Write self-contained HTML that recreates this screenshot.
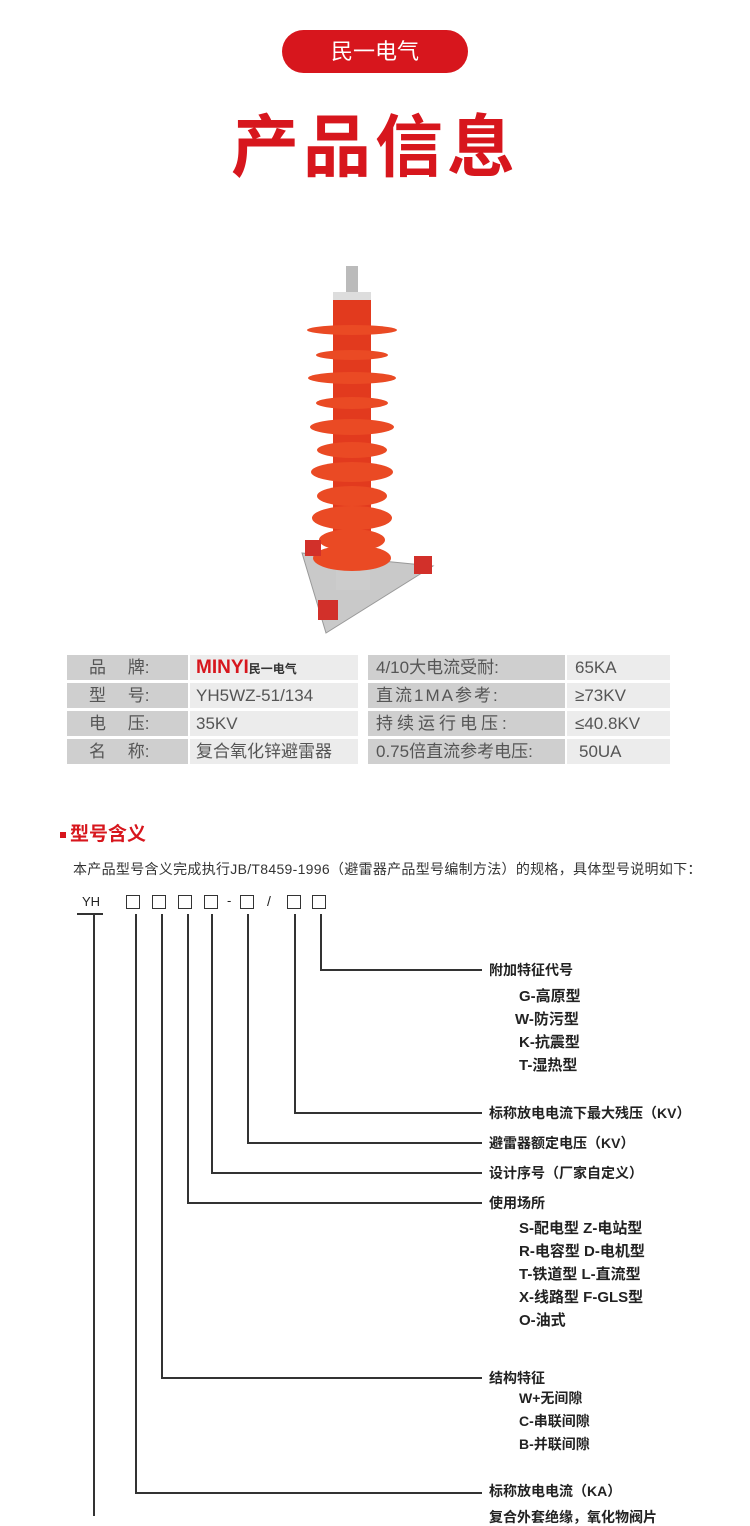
<!DOCTYPE html>
<html><head><meta charset="utf-8"><style>
*{margin:0;padding:0;box-sizing:border-box}
body{width:750px;height:1516px;background:#fff;position:relative;overflow:hidden;font-family:"Liberation Sans","Noto Sans CJK SC",sans-serif;color:#222}
.a{position:absolute;white-space:nowrap}
.pill{left:282px;top:30px;width:186px;height:43px;background:#d7161d;border-radius:22px;color:#fff;font-size:22px;text-align:center;line-height:43px}
.title{left:0;width:750px;top:106px;text-align:center;color:#d7161d;font-size:68px;font-weight:bold;letter-spacing:4px;line-height:84px}
.c{position:absolute;height:25px;font-size:17px;line-height:25px;color:#555;white-space:nowrap}
.g{background:#cfcfcf}.l{background:#ececec}
.lab{font-size:14px;font-weight:bold;color:#222;position:absolute;white-space:nowrap;line-height:18px}
.v{position:absolute;width:1.5px;background:#333}
.h{position:absolute;height:1.5px;background:#333}
.box{position:absolute;top:895px;width:14px;height:14px;border:1.3px solid #333}
.ul{position:absolute;top:913px;height:1.5px;background:#333}
</style></head><body>
<div class="a pill">民一电气</div>
<div class="a title">产品信息</div>
<svg class="a" style="left:290px;top:260px" width="160" height="380" viewBox="290 260 160 380">
<polygon points="302,553 433,566 326,633" fill="#c9c9c9" stroke="#999"/>
<rect x="336" y="550" width="34" height="40" fill="#ccc"/>
<rect x="346" y="266" width="12" height="28" fill="#bbb"/>
<rect x="333" y="292" width="38" height="10" fill="#ddd"/>
<rect x="333" y="300" width="38" height="260" fill="#e23a1e"/>
<g fill="#ea4a24">
<ellipse cx="352" cy="330" rx="45" ry="5"/><ellipse cx="352" cy="355" rx="36" ry="5"/>
<ellipse cx="352" cy="378" rx="44" ry="6"/><ellipse cx="352" cy="403" rx="36" ry="6"/>
<ellipse cx="352" cy="427" rx="42" ry="8"/><ellipse cx="352" cy="450" rx="35" ry="8"/>
<ellipse cx="352" cy="472" rx="41" ry="10"/><ellipse cx="352" cy="496" rx="35" ry="10"/>
<ellipse cx="352" cy="518" rx="40" ry="12"/><ellipse cx="352" cy="540" rx="33" ry="11"/>
<ellipse cx="352" cy="558" rx="39" ry="13"/></g>
<g fill="#d2302a"><rect x="305" y="540" width="16" height="16"/><rect x="414" y="556" width="18" height="18"/><rect x="318" y="600" width="20" height="20"/></g>
</svg>
<div class="c g" style="left:67px;top:655px;width:121px;padding-left:22px">品　 牌:</div>
<div class="c l" style="left:190px;top:655px;width:168px;padding-left:6px"><b style="color:#d7161d;font-size:19px">MINYI</b><span style="font-size:12px;font-weight:bold;color:#333">民一电气</span></div>
<div class="c g" style="left:368px;top:655px;width:197px;padding-left:8px">4/10大电流受耐:</div>
<div class="c l" style="left:567px;top:655px;width:103px;padding-left:8px">65KA</div>
<div class="c g" style="left:67px;top:683px;width:121px;padding-left:22px">型　 号:</div>
<div class="c l" style="left:190px;top:683px;width:168px;padding-left:6px">YH5WZ-51/134</div>
<div class="c g" style="left:368px;top:683px;width:197px;padding-left:8px;letter-spacing:2px">直流1MA参考:</div>
<div class="c l" style="left:567px;top:683px;width:103px;padding-left:8px">≥73KV</div>
<div class="c g" style="left:67px;top:711px;width:121px;padding-left:22px">电　 压:</div>
<div class="c l" style="left:190px;top:711px;width:168px;padding-left:6px">35KV</div>
<div class="c g" style="left:368px;top:711px;width:197px;padding-left:8px;letter-spacing:4px">持续运行电压:</div>
<div class="c l" style="left:567px;top:711px;width:103px;padding-left:8px">≤40.8KV</div>
<div class="c g" style="left:67px;top:739px;width:121px;padding-left:22px">名　 称:</div>
<div class="c l" style="left:190px;top:739px;width:168px;padding-left:6px">复合氧化锌避雷器</div>
<div class="c g" style="left:368px;top:739px;width:197px;padding-left:8px">0.75倍直流参考电压:</div>
<div class="c l" style="left:567px;top:739px;width:103px;padding-left:12px">50UA</div>

<div class="a" style="left:60px;top:832px;width:6px;height:6px;background:#d7161d"></div>
<div class="a" style="left:70px;top:823px;font-size:19px;color:#d7161d;line-height:24px;font-weight:bold">型号含义</div>
<div class="a" style="left:73px;top:860px;font-size:14px;letter-spacing:0.3px;line-height:18px;color:#333">本产品型号含义完成执行JB/T8459-1996（避雷器产品型号编制方法）的规格，具体型号说明如下：</div>

<div class="a" style="left:82px;top:894px;font-size:13px">YH</div>
<div class="ul" style="left:77px;width:26px"></div>
<div class="box" style="left:126px"></div><div class="box" style="left:152px"></div><div class="box" style="left:178px"></div><div class="box" style="left:204px"></div>
<div class="a" style="left:227px;top:893px;font-size:13px">-</div>
<div class="box" style="left:240px"></div>
<div class="a" style="left:267px;top:893px;font-size:14px">/</div>
<div class="box" style="left:287px"></div><div class="box" style="left:312px"></div>

<div class="v" style="left:93px;top:914px;height:602px"></div>
<div class="v" style="left:135px;top:914px;height:579px"></div><div class="h" style="left:135px;top:1492px;width:347px"></div>
<div class="v" style="left:161px;top:914px;height:464px"></div><div class="h" style="left:161px;top:1377px;width:321px"></div>
<div class="v" style="left:187px;top:914px;height:289px"></div><div class="h" style="left:187px;top:1202px;width:295px"></div>
<div class="v" style="left:211px;top:914px;height:259px"></div><div class="h" style="left:211px;top:1172px;width:271px"></div>
<div class="v" style="left:247px;top:914px;height:229px"></div><div class="h" style="left:247px;top:1142px;width:235px"></div>
<div class="v" style="left:294px;top:914px;height:199px"></div><div class="h" style="left:294px;top:1112px;width:188px"></div>
<div class="v" style="left:320px;top:914px;height:56px"></div><div class="h" style="left:320px;top:969px;width:162px"></div>

<div class="lab" style="left:489px;top:961px">附加特征代号</div>
<div class="lab" style="left:519px;top:988px;font-size:15px">G-高原型</div>
<div class="lab" style="left:515px;top:1011px;font-size:15px">W-防污型</div>
<div class="lab" style="left:519px;top:1034px;font-size:15px">K-抗震型</div>
<div class="lab" style="left:519px;top:1057px;font-size:15px">T-湿热型</div>
<div class="lab" style="left:489px;top:1104px">标称放电电流下最大残压（KV）</div>
<div class="lab" style="left:489px;top:1134px">避雷器额定电压（KV）</div>
<div class="lab" style="left:489px;top:1164px">设计序号（厂家自定义）</div>
<div class="lab" style="left:489px;top:1194px">使用场所</div>
<div class="lab" style="left:519px;top:1220px;font-size:15px">S-配电型  Z-电站型</div>
<div class="lab" style="left:519px;top:1243px;font-size:15px">R-电容型  D-电机型</div>
<div class="lab" style="left:519px;top:1266px;font-size:15px">T-铁道型  L-直流型</div>
<div class="lab" style="left:519px;top:1289px;font-size:15px">X-线路型  F-GLS型</div>
<div class="lab" style="left:519px;top:1312px;font-size:15px">O-油式</div>
<div class="lab" style="left:489px;top:1369px">结构特征</div>
<div class="lab" style="left:519px;top:1389px">W+无间隙</div>
<div class="lab" style="left:519px;top:1412px">C-串联间隙</div>
<div class="lab" style="left:519px;top:1435px">B-并联间隙</div>
<div class="lab" style="left:489px;top:1482px">标称放电电流（KA）</div>
<div class="lab" style="left:489px;top:1508px">复合外套绝缘，氧化物阀片</div>
</body></html>
